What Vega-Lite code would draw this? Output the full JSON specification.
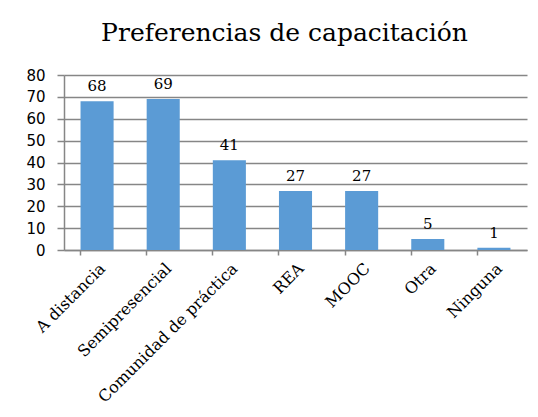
{
  "$schema": "https://vega.github.io/schema/vega-lite/v6.json",
  "autosize": "none",
  "width": 463,
  "height": 175,
  "padding": {"left": 64, "top": 75, "right": 11, "bottom": 167},
  "background": "white",
  "title": {
    "text": "Preferencias de capacitación",
    "font": "DejaVu Serif",
    "fontSize": 25,
    "fontWeight": "normal",
    "color": "#000000",
    "anchor": "middle",
    "offset": 22,
    "dx": -11
  },
  "config": {
    "view": {"stroke": null}
  },
  "data": {
    "values": [
      {"categoria": "A distancia", "valor": 68},
      {"categoria": "Semipresencial", "valor": 69},
      {"categoria": "Comunidad de práctica", "valor": 41},
      {"categoria": "REA", "valor": 27},
      {"categoria": "MOOC", "valor": 27},
      {"categoria": "Otra", "valor": 5},
      {"categoria": "Ninguna", "valor": 1}
    ]
  },
  "encoding": {
    "x": {
      "field": "categoria",
      "type": "nominal",
      "sort": null,
      "scale": {"paddingInner": 0.5, "paddingOuter": 0.25},
      "axis": {
        "title": null,
        "labelAngle": -45,
        "labelFont": "DejaVu Serif",
        "labelFontSize": 16,
        "labelLimit": 400,
        "labelColor": "#000000",
        "labelPadding": 5,
        "domainColor": "#868686",
        "domainWidth": 1.5,
        "tickColor": "#868686",
        "tickWidth": 1.5,
        "tickSize": 5,
        "bandPosition": 0,
        "grid": false
      }
    },
    "y": {
      "field": "valor",
      "type": "quantitative",
      "scale": {"domain": [0, 80]},
      "axis": {
        "title": null,
        "values": [0, 10, 20, 30, 40, 50, 60, 70, 80],
        "labelFont": "DejaVu Sans",
        "labelFontSize": 15,
        "labelColor": "#000000",
        "labelPadding": 12,
        "domainColor": "#868686",
        "domainWidth": 1.5,
        "tickColor": "#868686",
        "tickWidth": 1.5,
        "tickSize": 7,
        "grid": true,
        "gridColor": "#868686",
        "gridWidth": 1.5
      }
    }
  },
  "layer": [
    {"mark": {"type": "bar", "color": "#5B9BD5"}},
    {
      "mark": {
        "type": "text",
        "baseline": "bottom",
        "dy": -7,
        "font": "DejaVu Serif",
        "fontSize": 15,
        "color": "#000000"
      },
      "encoding": {"text": {"field": "valor", "type": "quantitative"}}
    }
  ]
}
